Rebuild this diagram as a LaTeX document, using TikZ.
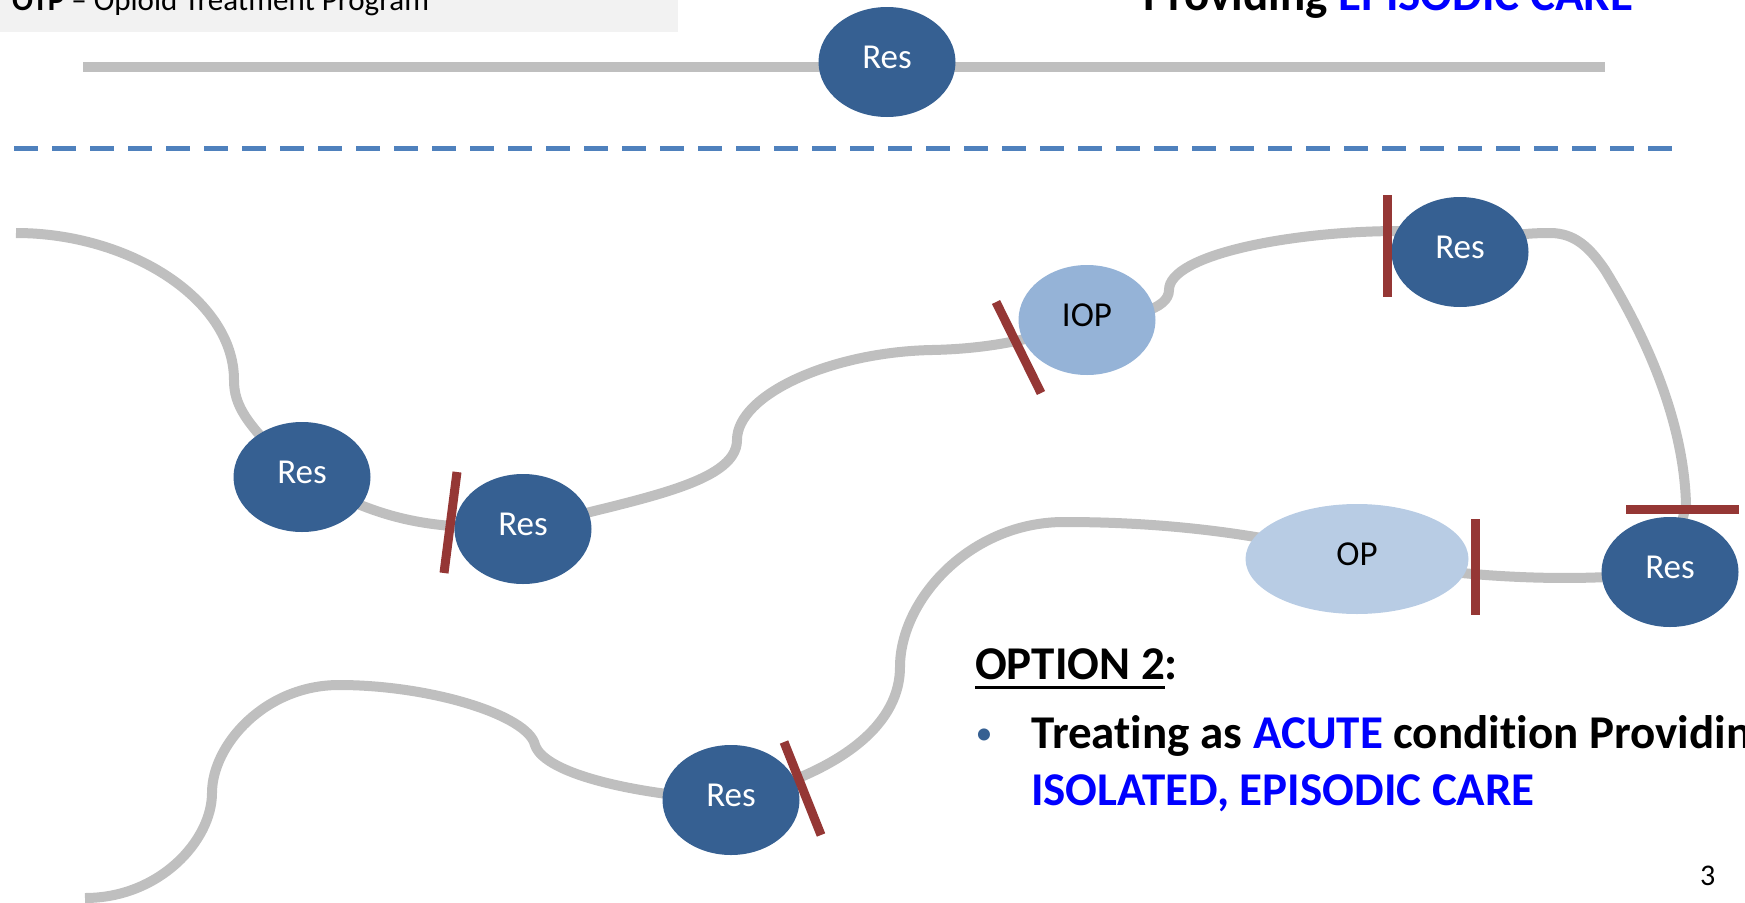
\documentclass[tikz,border=0pt]{standalone}
\usepackage{fontspec}
\setmainfont[Ligatures=NoCommon]{Carlito}
\usetikzlibrary{shapes.geometric, backgrounds}

\definecolor{resblue}{HTML}{366092}
\definecolor{iopblue}{HTML}{95B3D7}
\definecolor{opblue}{HTML}{B8CCE4}
\definecolor{roadgray}{HTML}{BFBFBF}
\definecolor{barred}{HTML}{953735}
\definecolor{dashblue}{HTML}{4F81BD}
\definecolor{textblue}{HTML}{0000FF}
\definecolor{boxgray}{HTML}{F2F2F2}

% thick underline for the option heading
\newcommand{\optunder}[1]{\setbox0\hbox{#1}\rlap{\rule[-9.5pt]{\wd0}{3pt}}\box0}

\begin{document}
\begin{tikzpicture}[
    x=1pt, y=-1pt,
    res/.style={ellipse, fill=resblue, minimum width=137pt, minimum height=110pt, inner sep=0pt, text=white, text height=23pt, text depth=11pt, font=\fontsize{35}{42}\selectfont},
    iop/.style={res, fill=iopblue, text=black},
    op/.style={res, fill=opblue, text=black, minimum width=223pt},
    road/.style={line width=10pt, draw=roadgray},
    cut/.style={line width=9pt, draw=barred},
    bigtext/.style={font=\fontsize{47}{57}\selectfont\bfseries, inner sep=0pt, anchor=base west}
]
    \useasboundingbox (0,0) rectangle (1745,902);

    % care settings
    \node[res] (topres) at (887,62) {Res};
    \node[res] (res1) at (302,477) {Res};
    \node[res] (res2) at (523,529) {Res};
    \node[iop] (iop) at (1087,320) {IOP};
    \node[res] (res3) at (1460,252) {Res};
    \node[res] (res4) at (1670,572) {Res};
    \node[op] (op) at (1357,559) {OP};
    \node[res] (res5) at (731,800) {Res};

    \coordinate (topL) at (83,67);
    \coordinate (topR) at (1605,67);
    \coordinate (startA) at (16,233);
    \coordinate (endB) at (85,898);

    % roads behind the ellipses
    \begin{scope}[on background layer]
        \fill[boxgray] (0,0) rectangle (678,32);
        \draw[road] (topL) -- (topR);
        \draw[dashblue, line width=5pt, dash pattern=on 24pt off 14pt] (14,148) -- (1676,148);

        \draw[road] (startA) .. controls (130,233) and (234,300) .. (234,380) .. controls (234,405) and (245,425) .. (res1.center);
        \draw[road] (res1.center) .. controls (390,525) and (430,527) .. (res2.center);
        \draw[road] (res2.center) .. controls (630,500) and (737,485) .. (737,440) .. controls (737,395) and (830,352) .. (932,350) .. controls (980,349) and (1030,342) .. (iop.center);
        \draw[road] (iop.center) .. controls (1130,318) and (1169,310) .. (1169,290) .. controls (1169,255) and (1290,231) .. (1400,231) -- (res3.center);
        \draw[road] (res3.center) .. controls (1500,236) and (1520,233) .. (1550,233) .. controls (1575,233) and (1590,248) .. (1605,270) .. controls (1645,335) and (1684,420) .. (1686,505) -- (res4.center);
        \draw[road] (op.center) .. controls (1450,575) and (1560,585) .. (res4.center);
        \draw[road] (op.center) .. controls (1250,530) and (1150,522) .. (1064,522) .. controls (970,522) and (900,600) .. (900,667) .. controls (900,720) and (850,770) .. (res5.center);
        \draw[road] (res5.center) .. controls (640,795) and (545,775) .. (535,745) .. controls (528,715) and (430,685) .. (339,685) .. controls (265,685) and (212,745) .. (212,793) .. controls (212,840) and (160,898) .. (endB);
    \end{scope}

    % breaks between episodes
    \draw[cut] (457,472) -- (444,573);
    \draw[cut] (996,302) -- (1041,393);
    \draw[cut] (1387,195) -- (1387,297);
    \draw[cut] (1626,509) -- (1739,509);
    \draw[cut] (1475,519) -- (1475,615);
    \draw[cut] (784,742) -- (821,835);

    % headings
    \node[anchor=base west, inner sep=0pt, font=\fontsize{31}{37}\selectfont] (otp) at (12,10) {\textbf{OTP} – Opioid Treatment Program};
    \node[bigtext] (episodic) at (1143,10) {Providing \textcolor{textblue}{EPISODIC CARE}};
    \node[bigtext] (option) at (975,679) {\optunder{OPTION 2}:};
    \node[anchor=base, inner sep=0pt, font=\fontsize{34}{40}\selectfont, text=resblue] (dot) at (984,744) {•};
    \node[bigtext] (acute) at (1031,748) {Treating as \textcolor{textblue}{ACUTE} condition Providing};
    \node[bigtext, text=textblue] (isolated) at (1031,805) {ISOLATED, EPISODIC CARE};
    \node[anchor=base west, inner sep=0pt, font=\fontsize{30}{36}\selectfont] (page) at (1700,885) {3};
\end{tikzpicture}
\end{document}
